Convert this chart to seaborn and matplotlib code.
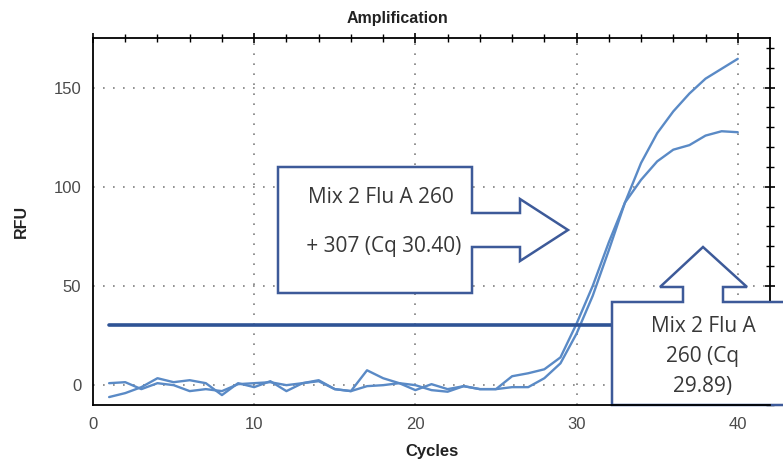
import numpy as np
import pandas as pd
import matplotlib
matplotlib.use("Agg")
import matplotlib.pyplot as plt
from matplotlib.patches import Polygon
import seaborn as sns

# Amplification curves (RFU per cycle)
cycles = list(range(1, 41))
rfu_260 = [-6, -4, -1, 3.5, 1.5, 2.5, 1, -5, 1, -1,
           2, -3, 1, 2.5, -2, -3, 7.5, 3.5, 1, 0,
           -2.5, -3.3, -0.5, -2, -2, 4.5, 6, 8, 14, 31,
           50, 72, 92, 103.5, 112.8, 118.7, 121, 125.8, 128, 127.5]
rfu_260_307 = [1, 1.5, -2, 1, 0, -3, -2, -3, 0.5, 1,
               1.5, 0, 1, 2, -2, -3, -0.5, 0, 1, -2.5,
               0.5, -2, -0.5, -2, -2, -1, -1, 3.5, 11, 26,
               45, 68, 92, 112, 127, 138, 147, 154.5, 159.5, 164.5]
threshold = 30.3
threshold_span = [1, 40]

label_a = "Mix 2 Flu A 260\n\n + 307 (Cq 30.40)"
label_b = ["Mix 2 Flu A", "260 (Cq", "29.89)"]

df = pd.DataFrame({"Cycle": cycles * 2,
                   "RFU": rfu_260 + rfu_260_307,
                   "Well": ["260"] * 40 + ["260+307"] * 40})

sns.set_style("white")
plt.rcParams["font.family"] = ["Liberation Sans", "DejaVu Sans"]

W, H = 783, 461
fig = plt.figure(figsize=(W / 100, H / 100), dpi=100)
ax = fig.add_axes([93 / W, 1 - 405 / H, (770 - 93) / W, (405 - 38) / H])

def px(x, y):
    return (x / W, 1 - y / H)

line_col = "#5a8ac6"
sns.lineplot(data=df, x="Cycle", y="RFU", units="Well", estimator=None,
             color=line_col, lw=1.7, ax=ax, legend=False, zorder=1.6)
ax.plot(threshold_span, [threshold, threshold], color="#2e5395", lw=2.6, zorder=1.7)

ax.set_xlim(0, 42)
ax.set_ylim(-10, 175)
ax.set_xticks([0, 10, 20, 30, 40])
ax.set_xticks(np.arange(0, 42, 2), minor=True)
ax.set_yticks([0, 50, 100, 150])
ax.set_yticks(np.arange(-10, 176, 10), minor=True)

# dotted grid drawn by hand so callouts can sit above it
for v in [10, 20, 30, 40]:
    ax.axvline(v, color="#7f7f7f", lw=1.2, ls=(0, (1, 5)), zorder=1)
for v in [0, 50, 100, 150]:
    ax.axhline(v, color="#7f7f7f", lw=1.2, ls=(0, (1, 5)), zorder=1)
ax.set_axisbelow(False)

ax.tick_params(axis="both", which="both", direction="inout", color="black",
               top=True, right=True, labelsize=12, labelcolor="#4a4a4a", pad=5)
ax.tick_params(which="major", length=7, width=1.2)
ax.tick_params(which="minor", length=6, width=1.0)
for s in ax.spines.values():
    s.set_color("black")
    s.set_linewidth(1.3)
# lower callout covers the right spine and its ticks, but not the x axis
ax.spines["right"].set_zorder(1.9)
ax.spines["bottom"].set_zorder(3)
ax.xaxis.set_zorder(3)

ax.set_xlabel("Cycles", fontsize=12, fontweight="bold", color="#222222", labelpad=9)
ax.set_ylabel("RFU", fontsize=11.5, fontweight="bold", color="#222222", labelpad=18)
fig.text(*px(397, 18), "Amplification", ha="center", va="center",
         fontsize=11.5, fontweight="bold", color="#222222")

# callout shapes in figure pixels
edge = "#3d5a99"
call_a = [(278, 167), (472, 167), (472, 213), (520, 213), (520, 199), (568, 230),
          (520, 261), (520, 247), (472, 247), (472, 293), (278, 293)]
call_b = [(612, 302), (683, 302), (683, 287), (660, 287), (703, 247), (747, 287),
          (723, 287), (723, 302), (800, 302), (800, 405), (612, 405)]
for pts in [call_a, call_b]:
    poly = Polygon([px(x, y) for x, y in pts], closed=True, transform=fig.transFigure,
                   facecolor="white", edgecolor=edge, lw=1.8, clip_on=False, zorder=2.6)
    ax.add_patch(poly)

txt_font = ["Open Sans", "DejaVu Sans"]
fig.text(*px(381, 222), label_a, ha="center", va="center", fontsize=15,
         color="#383838", family=txt_font, linespacing=1.2)
for t, y in zip(label_b, [326, 356, 386]):
    fig.text(*px(703, y), t, ha="center", va="center", fontsize=15,
             color="#383838", family=txt_font)

fig.savefig("out.png", dpi=100)
